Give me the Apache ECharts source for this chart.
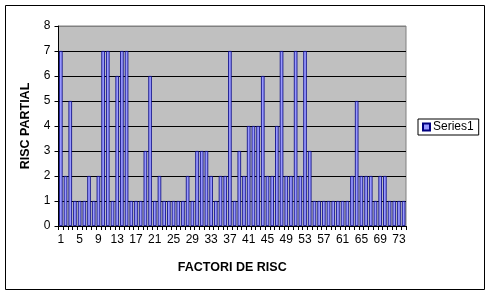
<!DOCTYPE html>
<html><head><meta charset="utf-8">
<script src="https://cdn.jsdelivr.net/npm/echarts@6/dist/echarts.min.js"></script>
<style>html,body{margin:0;padding:0;background:#fff}#c{width:491px;height:296px}</style>
</head><body><div id="c"></div>
<script>
const categories = [];
for (let i = 1; i <= 74; i++) categories.push(String(i));
const seriesName = 'Series1';
const values = [7,2,5,1,1,1,2,1,2,7, 7,1,6,7,7,1,1,1,3,6, 1,2,1,1,1,1,1,2,1,3, 3,3,2,1,2,2,7,1,3,2, 4,4,4,6,2,2,4,7,2,2, 7,2,7,3,1,1,1,1,1,1, 1,1,2,5,2,2,2,1,2,2, 1,1,1,1];
const yTicks = [0,1,2,3,4,5,6,7,8];
const FONT = 'Liberation Sans, Arial, sans-serif';
const chart = echarts.init(document.getElementById('c'));
chart.setOption({
  animation: false,
  backgroundColor: '#fff',
  textStyle: {fontFamily: FONT},
  grid: {left: 58.5, top: 26, width: 347.5, height: 200, show: true, backgroundColor: '#C0C0C0', borderColor: '#808080', borderWidth: 1, containLabel: false},
  legend: {
    show: true, left: 418, top: 119, orient: 'vertical',
    data: [seriesName],
    borderColor: '#000', borderWidth: 1, padding: [2, 5, 2, 4],
    itemWidth: 7, itemHeight: 7, itemGap: 2,
    textStyle: {fontSize: 12, color: '#000', fontFamily: FONT, padding: [0,0,0,-2]},
    icon: 'rect'
  },
  xAxis: {
    type: 'category', data: categories,
    name: 'FACTORI DE RISC', nameLocation: 'middle', nameGap: 35,
    nameTextStyle: {fontSize: 12.5, fontWeight: 'bold', color: '#000', fontFamily: FONT},
    axisLine: {lineStyle: {color: '#000', width: 1}},
    axisTick: {show: true, interval: 0, length: 4, lineStyle: {color: '#000'}},
    axisLabel: {interval: 3, fontSize: 12, color: '#000', margin: 8, fontFamily: FONT},
    splitLine: {show: false}
  },
  yAxis: {
    type: 'value', min: 0, max: 8, interval: 1,
    name: 'RISC PARTIAL', nameLocation: 'middle', nameGap: 26, nameRotate: 90,
    nameTextStyle: {fontSize: 12.5, fontWeight: 'bold', color: '#000', fontFamily: FONT},
    axisLine: {show: true, lineStyle: {color: '#000', width: 1}},
    axisTick: {show: true, length: 4, lineStyle: {color: '#000'}},
    axisLabel: {fontSize: 12, color: '#000', margin: 8, fontFamily: FONT,
      formatter: v => yTicks.includes(v) ? String(v) : ''},
    splitLine: {show: true, lineStyle: {color: ['#000','#000','#000','#000','#000','#000','#000','#000','#808080'], width: 1}}
  },
  series: [{
    type: 'bar', name: seriesName, data: values,
    barCategoryGap: '25%',
    itemStyle: {color: '#9999FF', borderColor: '#000080', borderWidth: 0.8}
  }],
  graphic: [{type: 'rect', shape: {x: 5.5, y: 5.5, width: 479, height: 284}, style: {fill: 'none', stroke: '#000', lineWidth: 1}, silent: true}]
});
</script></body></html>
